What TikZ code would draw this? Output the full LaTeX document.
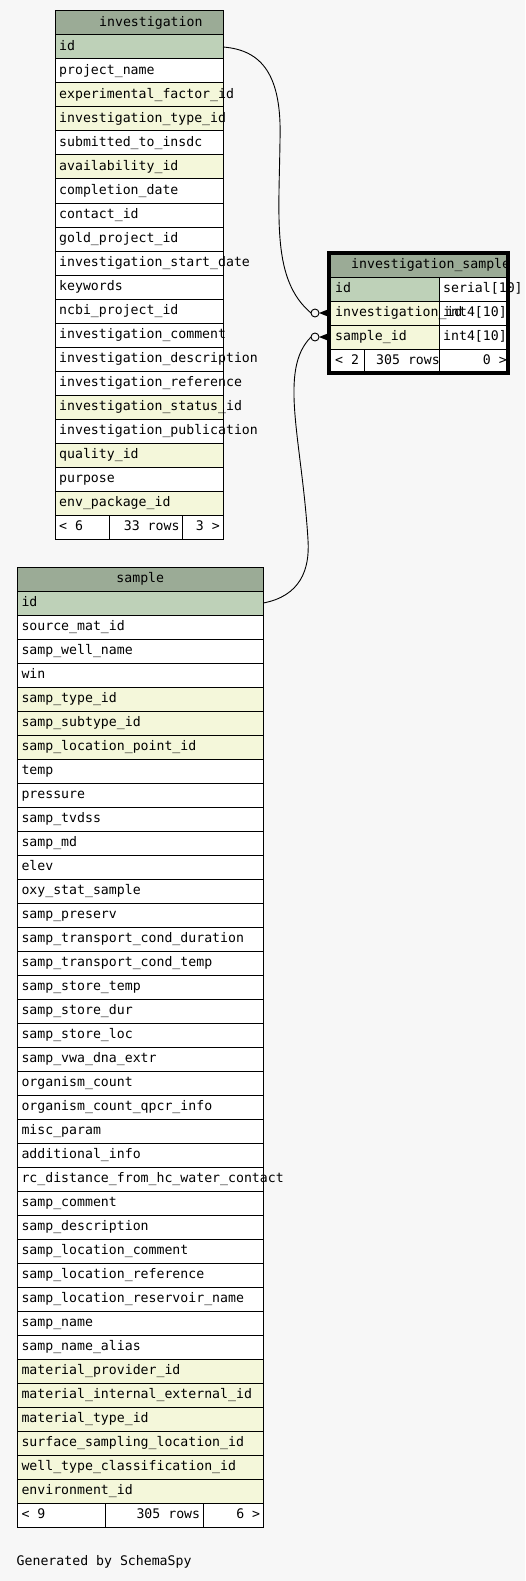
\documentclass[tikz,border=0pt]{standalone}
\usepackage{fontspec}
\newfontfamily\dbfont{DejaVu Sans Mono}

\definecolor{bgcol}{HTML}{F7F7F7}
\definecolor{headcol}{HTML}{9BAB96}
\definecolor{pkcol}{HTML}{BED1B8}
\definecolor{idxcol}{HTML}{F4F7DA}

\tikzset{
    cell/.style={draw,line width=1pt,anchor=north west,inner sep=0pt,outer sep=0pt,minimum height=24pt},
    celltext/.style={font=\dbfont\fontsize{13.2}{15}\selectfont,inner sep=0pt,text height=9.5pt,text depth=2pt,anchor=west,xshift=4pt},
    celltextr/.style={celltext,anchor=east,xshift=-7pt},
    relline/.style={line width=0.9pt}
}

\begin{document}
\begin{tikzpicture}[x=1pt,y=-1pt]
        \useasboundingbox (0,0) rectangle (525,1581);
        \fill[bgcol] (0,0) rectangle (525,1581);
        % investigation
        \node[cell,fill=headcol,minimum width=168pt,label={[celltext,xshift=40pt]west:investigation}] (inv-h) at (55,11) {};
        \foreach \fld/\bg [count=\i] in {id/pkcol, project\_name/white, experimental\_factor\_id/idxcol, investigation\_type\_id/idxcol,
            submitted\_to\_insdc/white, availability\_id/idxcol, completion\_date/white, contact\_id/white, gold\_project\_id/white,
            investigation\_start\_date/white, keywords/white, ncbi\_project\_id/white, investigation\_comment/white,
            investigation\_description/white, investigation\_reference/white, investigation\_status\_id/idxcol,
            investigation\_publication/white, quality\_id/idxcol, purpose/white, env\_package\_id/idxcol}
            \node[cell,fill=\bg,minimum width=168pt,label={[celltext]west:\fld}] (inv-\i) at (55,{35+24*(\i-1)}) {};
        \node[cell,fill=white,minimum width=54.3pt,label={[celltext]west:< 6}] (invf-1) at (55,515) {};
        \node[cell,fill=white,minimum width=73.4pt,label={[celltextr]east:33 rows}] (invf-2) at (invf-1.north east) {};
        \node[cell,fill=white,minimum width=40.3pt,label={[celltextr]east:3 >}] (invf-3) at (invf-2.north east) {};
        % sample
        \node[cell,fill=headcol,minimum width=246pt,label={[celltext,anchor=center,xshift=-4pt]center:sample}] (smp-h) at (17.3,567) {};
        \foreach \fld/\bg [count=\i] in {id/pkcol, source\_mat\_id/white, samp\_well\_name/white, win/white,
            samp\_type\_id/idxcol, samp\_subtype\_id/idxcol, samp\_location\_point\_id/idxcol, temp/white, pressure/white,
            samp\_tvdss/white, samp\_md/white, elev/white, oxy\_stat\_sample/white, samp\_preserv/white,
            samp\_transport\_cond\_duration/white, samp\_transport\_cond\_temp/white, samp\_store\_temp/white,
            samp\_store\_dur/white, samp\_store\_loc/white, samp\_vwa\_dna\_extr/white, organism\_count/white,
            organism\_count\_qpcr\_info/white, misc\_param/white, additional\_info/white,
            rc\_distance\_from\_hc\_water\_contact/white, samp\_comment/white, samp\_description/white,
            samp\_location\_comment/white, samp\_location\_reference/white, samp\_location\_reservoir\_name/white,
            samp\_name/white, samp\_name\_alias/white, material\_provider\_id/idxcol, material\_internal\_external\_id/idxcol,
            material\_type\_id/idxcol, surface\_sampling\_location\_id/idxcol, well\_type\_classification\_id/idxcol,
            environment\_id/idxcol}
            \node[cell,fill=\bg,minimum width=246pt,label={[celltext]west:\fld}] (smp-\i) at (17.3,{591+24*(\i-1)}) {};
        \node[cell,fill=white,minimum width=88.4pt,label={[celltext]west:< 9}] (smpf-1) at (17.3,1503) {};
        \node[cell,fill=white,minimum width=97.6pt,label={[celltextr]east:305 rows}] (smpf-2) at (smpf-1.north east) {};
        \node[cell,fill=white,minimum width=60pt,label={[celltextr]east:6 >}] (smpf-3) at (smpf-2.north east) {};
        % investigation_sample
        \node[cell,fill=headcol,minimum width=179pt,label={[celltext,xshift=18pt]west:investigation\_sample}] (isamp-h) at (329,253) {};
        \foreach \typ [count=\i] in {serial[10], int4[10], int4[10]}
            \node[cell,fill=white,minimum width=69pt,label={[celltext]west:\typ}] (isamp-t\i) at (439,{277+24*(\i-1)}) {};
        \foreach \fld/\bg [count=\i] in {id/pkcol, investigation\_id/idxcol, sample\_id/idxcol}
            \node[cell,fill=\bg,minimum width=110pt,label={[celltext,xshift=2pt]west:\fld}] (isamp-\i) at (329,{277+24*(\i-1)}) {};
        \node[cell,fill=white,minimum width=35pt,label={[celltext,xshift=2pt]west:< 2}] (isampf-1) at (329,349) {};
        \node[cell,fill=white,minimum width=75pt,label={[celltextr,xshift=4pt]east:305 rows}] (isampf-2) at (isampf-1.north east) {};
        \node[cell,fill=white,minimum width=69pt,label={[celltextr,xshift=2pt]east:0 >}] (isampf-3) at (isampf-2.north east) {};
        \draw[line width=3.5pt] (isamp-h.north west) rectangle (isampf-3.south east);
        % relations
        \draw[relline] (inv-1.east) .. controls (262,50) and (282,75) .. (280,140)
            .. controls (279,220) and (272,280) .. ([xshift=-18pt]isamp-2.west);
        \draw[relline] (smp-1.east) .. controls (300,596) and (310,570) .. (308,540)
            .. controls (302,440) and (278,370) .. ([xshift=-18pt]isamp-3.west);
        \foreach \r in {2,3} {
            \draw[relline,fill=bgcol] ([xshift=-14pt]isamp-\r.west) circle (4pt);
            \fill ([xshift=-10pt]isamp-\r.west) -- ([yshift=4pt]isamp-\r.west) -- ([xshift=-2pt]isamp-\r.west)
                -- ([yshift=-4pt]isamp-\r.west) -- cycle;
        }
        \node[celltext,xshift=-4pt] (gen) at (16.5,1562) {Generated by SchemaSpy};
    \end{tikzpicture}
\end{document}
